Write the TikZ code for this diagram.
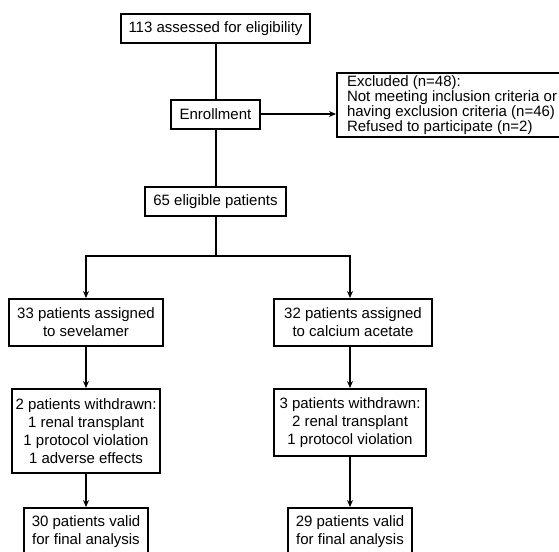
\documentclass[tikz,border=0pt]{standalone}
\usepackage{fontspec}
\setmainfont{Liberation Sans}
\usetikzlibrary{arrows.meta}
\begin{document}
\begin{tikzpicture}[x=1pt,y=-1pt,line width=2pt,>={Stealth[length=7pt,width=6pt]},
	box/.style={draw,align=center,inner xsep=8pt,inner ysep=2pt,minimum height=29pt,font=\fontsize{15}{18}\selectfont},
	exbox/.style={draw,align=left,inner xsep=10pt,inner ysep=2pt,minimum height=64pt,font=\fontsize{15}{15}\selectfont}]
	\useasboundingbox (0,0) rectangle (559,551);
	\clip (0,0) rectangle (559,551);
	% top part
	\node[box] (assess) at (215.5,28.5) {113 assessed for eligibility};
	\node[box,inner xsep=9pt] (enroll) at (215.5,114) {Enrollment};
	\node[exbox,anchor=west] (excl) at (336,105) {Excluded (n=48):\\Not meeting inclusion criteria or\\having exclusion criteria (n=46)\\Refused to participate (n=2)};
	\node[box] (elig) at (215.5,201.5) {65 eligible patients};
	\coordinate (split) at (215.5,256);
	% two arms
	\node[box,minimum height=47pt] (sev) at (86,322.5) {33 patients assigned\\to sevelamer};
	\node[box,minimum height=47pt,inner xsep=10pt] (cal) at (353,322.5) {32 patients assigned\\to calcium acetate};
	\node[box,minimum height=84pt,inner xsep=4pt] (wdl) at (86,431) {2 patients withdrawn:\\1 renal transplant\\1 protocol violation\\1 adverse effects};
	\node[box,minimum height=67pt,inner xsep=6pt] (wdr) at (350,422.5) {3 patients withdrawn:\\2 renal transplant\\1 protocol violation};
	\node[box,minimum height=47pt] (finl) at (86,531.5) {30 patients valid\\for final analysis};
	\node[box,minimum height=47pt] (finr) at (350,531.5) {29 patients valid\\for final analysis};
	% connectors
	\draw (assess) -- (enroll);
	\draw (enroll) -- (elig);
	\draw[->] (enroll.east) -- (enroll.east -| excl.west);
	\draw (elig) -- (split);
	\draw[->] (split) -| (sev);
	\draw[->] (split) -| (cal.north -| wdr);
	\draw[->] (sev) -- (wdl);
	\draw[->] (cal.south -| wdr) -- (wdr);
	\draw[->] (wdl) -- (finl);
	\draw[->] (wdr) -- (finr);
\end{tikzpicture}
\end{document}
